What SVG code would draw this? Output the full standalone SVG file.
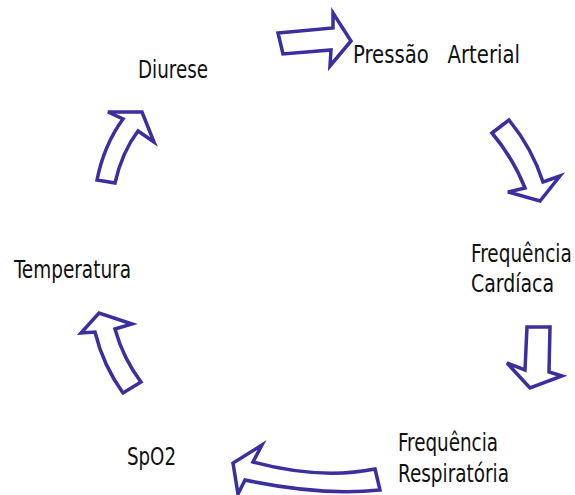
<svg xmlns="http://www.w3.org/2000/svg" width="575" height="495" viewBox="0 0 575 495">
<style>
.arr{fill:#fff;stroke:#3b2e9e;stroke-width:3.5;stroke-linejoin:miter}
.t{font-family:"DejaVu Sans Condensed","Liberation Sans Narrow","Liberation Sans",sans-serif;font-size:25px;fill:#111}
</style>
<rect width="575" height="495" fill="#fff"/>
<g id="connectors">
<path class="arr" d="M278,33 L333,28 L333,13 L351,41 L330,66 L331,50 L283,54 Z"/>
<path class="arr" d="M492,133 L509,120 Q532,148 543,182 L560,176 L540,201 L508,192 L525,188 Q513,158 492,133 Z"/>
<path class="arr" d="M527,327 L550,327 L549,372 L562,376 L530,388 L507,363 L525,370 Z"/>
<path class="arr" d="M375,469 L380,490 Q320,496 245,480 L238,494 L233,463 L262,445 L253,462 Q320,480 375,469 Z"/>
<path class="arr" d="M141,382 L123,393 Q103,365 95,332 L81,333 L99,313 L132,324 L115,329 Q123,358 141,382 Z"/>
<path class="arr" d="M97,180 L115,183 Q122,152 138,131 L154,142 L142,112 L108,112 L123,119 Q104,145 97,180 Z"/>
</g>
<g id="n-diurese"><text class="t" x="138" y="78" textLength="70" lengthAdjust="spacingAndGlyphs">Diurese</text></g>
<g id="n-pressao"><text class="t" x="353" y="63" textLength="167" lengthAdjust="spacingAndGlyphs" xml:space="preserve">Pressão   Arterial</text></g>
<g id="n-fc"><text class="t" transform="translate(471,262) scale(0.8,1)" x="0" y="0" textLength="126" lengthAdjust="spacingAndGlyphs">Frequência</text><text class="t" x="471" y="292" textLength="83" lengthAdjust="spacingAndGlyphs">Cardíaca</text></g>
<g id="n-fr"><text class="t" x="398" y="451" textLength="100" lengthAdjust="spacingAndGlyphs">Frequência</text><text class="t" x="398" y="482" textLength="111" lengthAdjust="spacingAndGlyphs">Respiratória</text></g>
<g id="n-spo2"><text class="t" x="127" y="465" textLength="49" lengthAdjust="spacingAndGlyphs">SpO2</text></g>
<g id="n-temp"><text class="t" x="14" y="278" textLength="117" lengthAdjust="spacingAndGlyphs">Temperatura</text></g>
</svg>
